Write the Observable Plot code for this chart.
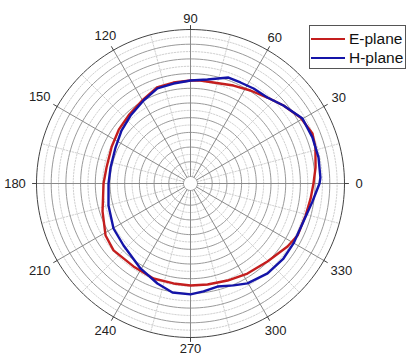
<!DOCTYPE html>
<html>
<head>
<meta charset="utf-8">
<script src="https://cdn.jsdelivr.net/npm/d3@7"></script>
<script src="https://cdn.jsdelivr.net/npm/@observablehq/plot@0.6"></script>
<style>
  body { margin: 0; background: #fff; }
  #wrap { position: relative; width: 407px; height: 358px; font-family: "Liberation Sans", Arial, sans-serif; }
  #legend { position: absolute; left: 309px; top: 25px; width: 97px; height: 44px; border: 1px solid #555; background: #fff; box-sizing: border-box; }
  .item { position: absolute; left: 0; display: flex; align-items: center; font-size: 15.5px; line-height: 18px; height: 18px; color: #111; white-space: nowrap; }
  .sw { width: 34px; height: 0; border-top: 2.5px solid; margin-left: 1px; margin-right: 4px; }
</style>
</head>
<body>
<div id="wrap"></div>
<script>
// Angle tick labels (degrees)
const angleTicks = [0, 30, 60, 90, 120, 150, 180, 210, 240, 270, 300, 330];
const seriesNames = ["E-plane", "H-plane"];
const seriesColors = ["#c41e1e", "#1414a8"];

// E-plane: angle (deg) and radial value (grid-ring units, 0 = inner hole, 10 = outer ring)
const eAngles = [0, 7.3, 16.1, 22.3, 31, 40, 48.2, 57.2, 66.3, 77.2, 84.5, 90, 99.6, 109.2, 119.5, 131.4, 142.9, 155, 169, 180,
  197.6, 211.5, 221, 235.5, 248.7, 260.4, 270, 279.6, 290.9, 302.3, 314.6, 327, 334.1, 344.4, 352.9];
const eValues = [7.89, 8.10, 8.37, 8.49, 8.25, 7.78, 7.37, 7.05, 6.80, 6.57, 6.56, 6.53, 6.49, 6.44, 6.08, 5.80, 5.63, 5.44, 5.34, 5.44,
  5.80, 6.30, 6.46, 6.37, 6.46, 6.42, 6.46, 6.49, 6.59, 6.77, 6.98, 7.39, 7.62, 7.65, 7.76];

// H-plane
const hAngles = [0, 2.6, 11.5, 20.7, 30.1, 40, 48.2, 56.4, 63.7, 70.3, 80.7, 90, 99.6, 109.2, 119.5, 131.4, 142.5, 154.4, 168.7, 180,
  195, 210.3, 222.8, 239.5, 251.7, 260.6, 270, 276.9, 284.7, 292.9, 299.7, 310.6, 321.1, 329.8, 341.4, 351.6];
const hValues = [8.30, 8.37, 8.41, 8.39, 8.33, 7.78, 7.37, 7.28, 7.19, 7.18, 6.69, 6.53, 6.42, 6.37, 6.01, 5.69, 5.44, 5.18, 5.07, 5.10,
  5.30, 5.59, 5.73, 6.23, 6.69, 7.04, 7.07, 6.92, 6.77, 7.05, 7.35, 7.58, 7.65, 7.63, 7.63, 7.91];

const rings = 10;             // number of major rings
const hole = 7 / 14.7;        // inner empty radius in ring units
const R = hole + rings;       // outer radius

const rad = d => d * Math.PI / 180;
const px = (a, r) => r * Math.cos(rad(a));
const py = (a, r) => r * Math.sin(rad(a));

const series = [
  ...eAngles.map((a, i) => ({s: seriesNames[0], a, v: eValues[i]})),
  ...hAngles.map((a, i) => ({s: seriesNames[1], a, v: hValues[i]}))
];

// grid circles
const circ = [];
for (let k = 0; k <= rings * 2; k++) {
  const r = hole + k / 2;
  for (let a = 0; a <= 360; a += 2) circ.push({k, major: k % 2 === 0, outer: k === rings * 2, r, a});
}
// spokes
const spokes = [];
for (let a = 0; a < 360; a += 15) {
  spokes.push({a, major: a % 30 === 0, r: hole});
  spokes.push({a, major: a % 30 === 0, r: R});
}
const ticks = [];
for (const a of angleTicks) {
  ticks.push({a, r: R});
  ticks.push({a, r: R + 4 / 14.7});
}
const labels = angleTicks.map(a => {
  const t = String(a);
  const rp = 165 + t.length * 3.5 * Math.abs(Math.cos(rad(a)));
  return {a, t, r: rp / 14.7};
});

const chart = Plot.plot({
  width: 407,
  height: 358,
  margin: 0,
  x: {domain: [-R, R], range: [36, 344], axis: null},
  y: {domain: [-R, R], range: [337, 29], axis: null},
  marks: [
    Plot.line(circ.filter(d => !d.major), {x: d => px(d.a, d.r), y: d => py(d.a, d.r), z: "k", stroke: "#c4c4c4", strokeWidth: 0.8, strokeDasharray: "1.5,1.5"}),
    Plot.line(spokes.filter(d => !d.major), {x: d => px(d.a, d.r), y: d => py(d.a, d.r), z: "a", stroke: "#c4c4c4", strokeWidth: 0.8, strokeDasharray: "1.5,1.5"}),
    Plot.line(circ.filter(d => d.major && !d.outer), {x: d => px(d.a, d.r), y: d => py(d.a, d.r), z: "k", stroke: "#9a9a9a", strokeWidth: 1}),
    Plot.line(spokes.filter(d => d.major), {x: d => px(d.a, d.r), y: d => py(d.a, d.r), z: "a", stroke: "#8a8a8a", strokeWidth: 1}),
    Plot.line(circ.filter(d => d.outer), {x: d => px(d.a, d.r), y: d => py(d.a, d.r), stroke: "#444", strokeWidth: 1}),
    Plot.line(ticks, {x: d => px(d.a, d.r), y: d => py(d.a, d.r), z: "a", stroke: "#444", strokeWidth: 1}),
    Plot.line(series, {x: d => px(d.a, hole + d.v), y: d => py(d.a, hole + d.v), z: "s",
      stroke: d => seriesColors[seriesNames.indexOf(d.s)], strokeWidth: 2.4, curve: "linear-closed"}),
    Plot.text(labels, {x: d => px(d.a, d.r), y: d => py(d.a, d.r), text: "t", fontSize: 13, fill: "#222",
      fontFamily: "Liberation Sans, Arial, sans-serif"})
  ]
});

const wrap = document.getElementById("wrap");
wrap.appendChild(chart);
const leg = document.createElement("div");
leg.id = "legend";
seriesNames.forEach((n, i) => {
  const it = document.createElement("div");
  it.className = "item";
  it.style.top = (i === 0 ? 4 : 23) + "px";
  const sw = document.createElement("span");
  sw.className = "sw";
  sw.style.borderColor = seriesColors[i];
  const tx = document.createElement("span");
  tx.textContent = n;
  it.appendChild(sw); it.appendChild(tx);
  leg.appendChild(it);
});
wrap.appendChild(leg);
</script>
</body>
</html>
